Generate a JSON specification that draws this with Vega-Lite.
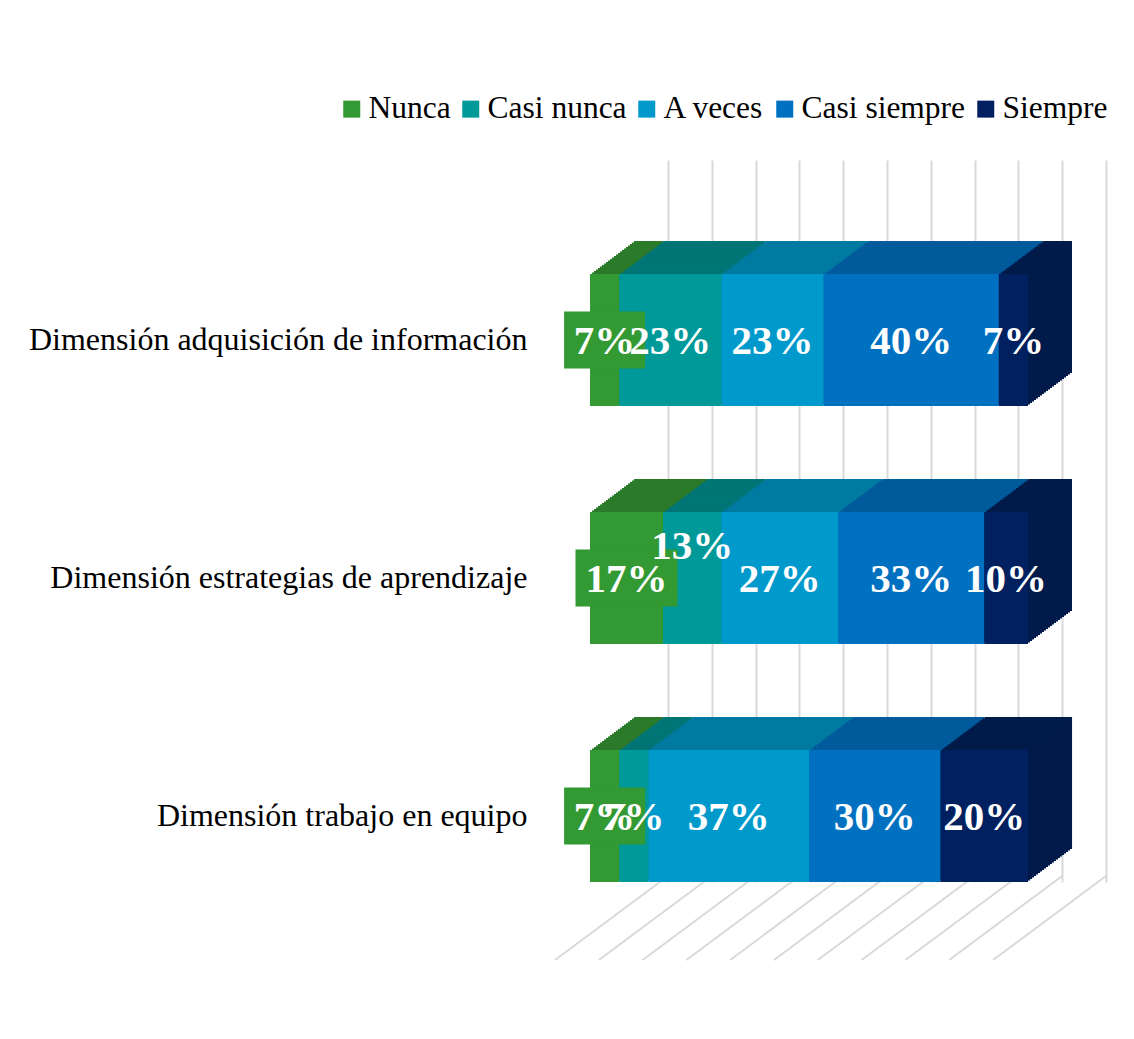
{
  "$schema": "https://vega.github.io/schema/vega-lite/v6.json",
  "autosize": "none",
  "width": 438,
  "height": 722,
  "padding": {"left": 590, "top": 160, "right": 106, "bottom": 157},
  "background": "white",
  "config": {
    "view": {"stroke": null},
    "font": "Liberation Serif",
    "axisX": {"grid": true, "labels": false, "ticks": false, "domain": false, "tickOffset": 78, "gridColor": "#d9d9d9", "gridWidth": 2, "tickCount": 10},
    "axisY": {"grid": false, "ticks": false, "domain": false, "labelFont": "Liberation Serif", "labelFontSize": 32, "labelColor": "#000000", "labelPadding": 63, "labelLimit": 700}
  },
  "datasets": {
    "resp": [
      {"dim": "Dimensión adquisición de información", "cat": "Nunca", "n": 1, "value": 6.67, "label": "7%"},
      {"dim": "Dimensión adquisición de información", "cat": "Casi nunca", "n": 2, "value": 23.33, "label": "23%"},
      {"dim": "Dimensión adquisición de información", "cat": "A veces", "n": 3, "value": 23.33, "label": "23%"},
      {"dim": "Dimensión adquisición de información", "cat": "Casi siempre", "n": 4, "value": 40, "label": "40%"},
      {"dim": "Dimensión adquisición de información", "cat": "Siempre", "n": 5, "value": 6.67, "label": "7%"},
      {"dim": "Dimensión estrategias de aprendizaje", "cat": "Nunca", "n": 1, "value": 16.67, "label": "17%"},
      {"dim": "Dimensión estrategias de aprendizaje", "cat": "Casi nunca", "n": 2, "value": 13.33, "label": "13%"},
      {"dim": "Dimensión estrategias de aprendizaje", "cat": "A veces", "n": 3, "value": 26.67, "label": "27%"},
      {"dim": "Dimensión estrategias de aprendizaje", "cat": "Casi siempre", "n": 4, "value": 33.33, "label": "33%"},
      {"dim": "Dimensión estrategias de aprendizaje", "cat": "Siempre", "n": 5, "value": 10, "label": "10%"},
      {"dim": "Dimensión trabajo en equipo", "cat": "Nunca", "n": 1, "value": 6.67, "label": "7%"},
      {"dim": "Dimensión trabajo en equipo", "cat": "Casi nunca", "n": 2, "value": 6.67, "label": "7%"},
      {"dim": "Dimensión trabajo en equipo", "cat": "A veces", "n": 3, "value": 36.67, "label": "37%"},
      {"dim": "Dimensión trabajo en equipo", "cat": "Casi siempre", "n": 4, "value": 30, "label": "30%"},
      {"dim": "Dimensión trabajo en equipo", "cat": "Siempre", "n": 5, "value": 20, "label": "20%"}
    ],
    "grid": [{"p": 0}, {"p": 10}, {"p": 20}, {"p": 30}, {"p": 40}, {"p": 50}, {"p": 60}, {"p": 70}, {"p": 80}, {"p": 90}, {"p": 100}]
  },
  "data": {"name": "resp"},
  "encoding": {
    "y": {"field": "dim", "type": "nominal", "title": null,
      "sort": ["Dimensión adquisición de información", "Dimensión estrategias de aprendizaje", "Dimensión trabajo en equipo"],
      "scale": {"paddingInner": 0.4454, "paddingOuter": 0.2395, "align": 1}}
  },
  "resolve": {"scale": {"color": "independent"}},
  "layer": [
    {
      "data": {"name": "grid"},
      "mark": {"type": "rule", "color": "#d9d9d9", "strokeWidth": 2, "xOffset": -35, "x2Offset": 78, "yOffset": 78, "y2Offset": -6},
      "encoding": {
        "x": {"field": "p", "type": "quantitative", "title": null, "scale": {"domain": [0, 100], "nice": false}},
        "x2": {"field": "p"},
        "y": {"value": "height"},
        "y2": {"value": "height"}
      }
    },
    {
      "encoding": {
        "x": {"field": "value", "type": "quantitative", "stack": "zero", "title": null, "scale": {"domain": [0, 100], "nice": false}},
        "color": {"field": "cat", "type": "nominal", "legend": null,
          "scale": {"domain": ["Nunca", "Casi nunca", "A veces", "Casi siempre", "Siempre"], "range": ["#2a7a2a", "#007575", "#007aa0", "#005a9c", "#001a4a"]}},
        "order": {"field": "n", "type": "quantitative"}
      },
      "layer": [
        {"mark": {"type": "bar", "xOffset": 44, "x2Offset": 44, "yOffset": -33, "y2Offset": -33}},
        {"mark": {"type": "bar", "xOffset": 42, "x2Offset": 42, "yOffset": -31.5, "y2Offset": -31.5}},
        {"mark": {"type": "bar", "xOffset": 40, "x2Offset": 40, "yOffset": -30, "y2Offset": -30}},
        {"mark": {"type": "bar", "xOffset": 38, "x2Offset": 38, "yOffset": -28.5, "y2Offset": -28.5}},
        {"mark": {"type": "bar", "xOffset": 36, "x2Offset": 36, "yOffset": -27, "y2Offset": -27}},
        {"mark": {"type": "bar", "xOffset": 34, "x2Offset": 34, "yOffset": -25.5, "y2Offset": -25.5}},
        {"mark": {"type": "bar", "xOffset": 32, "x2Offset": 32, "yOffset": -24, "y2Offset": -24}},
        {"mark": {"type": "bar", "xOffset": 30, "x2Offset": 30, "yOffset": -22.5, "y2Offset": -22.5}},
        {"mark": {"type": "bar", "xOffset": 28, "x2Offset": 28, "yOffset": -21, "y2Offset": -21}},
        {"mark": {"type": "bar", "xOffset": 26, "x2Offset": 26, "yOffset": -19.5, "y2Offset": -19.5}},
        {"mark": {"type": "bar", "xOffset": 24, "x2Offset": 24, "yOffset": -18, "y2Offset": -18}},
        {"mark": {"type": "bar", "xOffset": 22, "x2Offset": 22, "yOffset": -16.5, "y2Offset": -16.5}},
        {"mark": {"type": "bar", "xOffset": 20, "x2Offset": 20, "yOffset": -15, "y2Offset": -15}},
        {"mark": {"type": "bar", "xOffset": 18, "x2Offset": 18, "yOffset": -13.5, "y2Offset": -13.5}},
        {"mark": {"type": "bar", "xOffset": 16, "x2Offset": 16, "yOffset": -12, "y2Offset": -12}},
        {"mark": {"type": "bar", "xOffset": 14, "x2Offset": 14, "yOffset": -10.5, "y2Offset": -10.5}},
        {"mark": {"type": "bar", "xOffset": 12, "x2Offset": 12, "yOffset": -9, "y2Offset": -9}},
        {"mark": {"type": "bar", "xOffset": 10, "x2Offset": 10, "yOffset": -7.5, "y2Offset": -7.5}},
        {"mark": {"type": "bar", "xOffset": 8, "x2Offset": 8, "yOffset": -6, "y2Offset": -6}},
        {"mark": {"type": "bar", "xOffset": 6, "x2Offset": 6, "yOffset": -4.5, "y2Offset": -4.5}},
        {"mark": {"type": "bar", "xOffset": 4, "x2Offset": 4, "yOffset": -3, "y2Offset": -3}},
        {"mark": {"type": "bar", "xOffset": 2, "x2Offset": 2, "yOffset": -1.5, "y2Offset": -1.5}}
      ]
    },
    {
      "mark": {"type": "bar"},
      "encoding": {
        "x": {"field": "value", "type": "quantitative", "stack": "zero", "title": null, "scale": {"domain": [0, 100], "nice": false}},
        "color": {"field": "cat", "type": "nominal",
          "scale": {"domain": ["Nunca", "Casi nunca", "A veces", "Casi siempre", "Siempre"], "range": ["#339933", "#009999", "#0099cc", "#0070c0", "#002060"]},
          "legend": {"orient": "none", "legendX": -254, "legendY": -67, "direction": "horizontal", "title": null, "symbolType": "square", "symbolSize": 289, "symbolStrokeWidth": 0, "labelFont": "Liberation Serif", "labelFontSize": 31.5, "labelColor": "#000000", "columnPadding": 4, "labelOffset": 1, "labelLimit": 400}},
        "order": {"field": "n", "type": "quantitative"}
      }
    },
    {
      "transform": [{"filter": "datum.cat == 'Nunca' && datum.label == '7%'"}],
      "mark": {"type": "point", "filled": true, "opacity": 1, "color": "#339933", "strokeWidth": 0, "size": 6561, "shape": "M-1,-0.704L1,-0.704L1,0.704L-1,0.704Z"},
      "encoding": {
        "x": {"field": "value", "type": "quantitative", "stack": "zero", "bandPosition": 0.5, "title": null},
        "detail": {"field": "cat"}
      }
    },
    {
      "transform": [{"filter": "datum.cat == 'Nunca' && datum.label == '17%'"}],
      "mark": {"type": "point", "filled": true, "opacity": 1, "color": "#339933", "strokeWidth": 0, "size": 10404, "shape": "M-1,-0.559L1,-0.559L1,0.559L-1,0.559Z"},
      "encoding": {
        "x": {"field": "value", "type": "quantitative", "stack": "zero", "bandPosition": 0.5, "title": null},
        "detail": {"field": "cat"}
      }
    },
    {
      "mark": {"type": "text", "font": "Liberation Serif", "fontWeight": "bold", "fontSize": 41, "color": "white", "baseline": "middle", "dy": 2},
      "encoding": {
        "x": {"field": "value", "type": "quantitative", "stack": "zero", "bandPosition": 0.5, "title": null},
        "detail": {"field": "cat"},
        "order": {"field": "n", "type": "quantitative"},
        "text": {"condition": {"test": "datum.dim == 'Dimensión estrategias de aprendizaje' && datum.cat == 'Casi nunca'", "value": ""}, "field": "label"}
      }
    },
    {
      "mark": {"type": "text", "font": "Liberation Serif", "fontWeight": "bold", "fontSize": 41, "color": "white", "baseline": "middle", "dy": 2, "yOffset": -33},
      "encoding": {
        "x": {"field": "value", "type": "quantitative", "stack": "zero", "bandPosition": 0.5, "title": null},
        "detail": {"field": "cat"},
        "order": {"field": "n", "type": "quantitative"},
        "text": {"condition": {"test": "datum.dim == 'Dimensión estrategias de aprendizaje' && datum.cat == 'Casi nunca'", "field": "label"}, "value": ""}
      }
    }
  ]
}
